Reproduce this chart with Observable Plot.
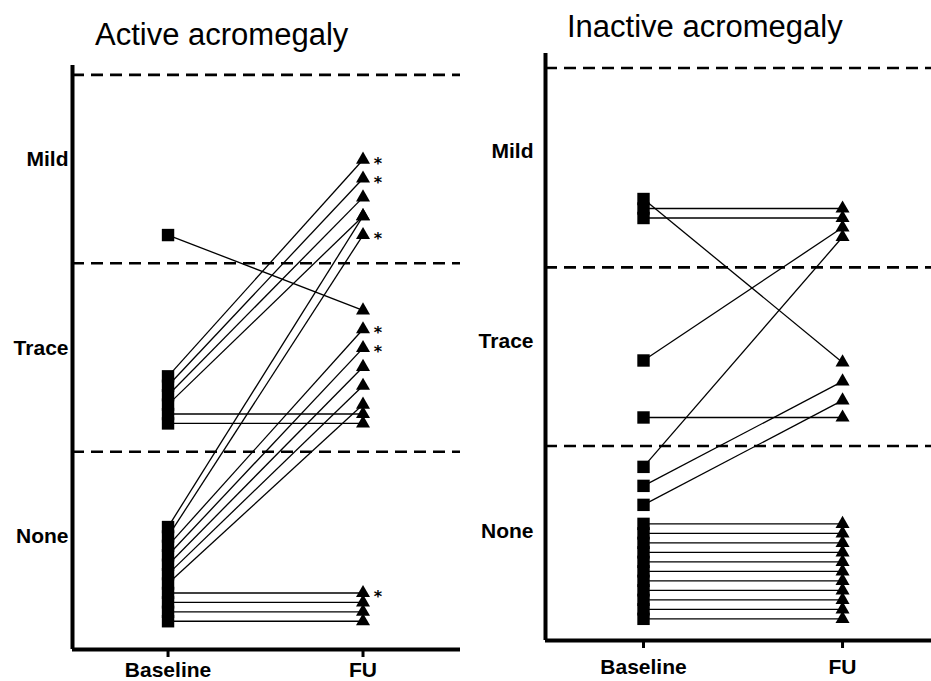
<!DOCTYPE html>
<html>
<head>
<meta charset="utf-8">
<script src="https://cdn.jsdelivr.net/npm/d3@7"></script>
<script src="https://cdn.jsdelivr.net/npm/@observablehq/plot@0.6"></script>
<style>
  body { margin: 0; background: #fff; }
  #wrap { position: relative; width: 931px; height: 681px; overflow: hidden; font-family: "Liberation Sans", Arial, sans-serif; }
  .panel { position: absolute; top: 0; }
  .title { position: absolute; font-size: 31px; line-height: 31px; white-space: nowrap; color: #000; }
</style>
</head>
<body>
<div id="wrap">
  <div class="panel" id="left"></div>
  <div class="panel" id="right" style="left:470px"></div>
  <div class="title" style="left:95px; top:19px">Active acromegaly</div>
  <div class="title" style="left:567px; top:11px">Inactive acromegaly</div>
</div>
<script>
// Category tick labels (y) and time points (x)
const categories = ["None", "Trace", "Mild"];      // at 0, 1, 2
const timepoints = ["Baseline", "FU"];             // at 0, 1

// Active acromegaly: paired scores (baseline -> follow-up)
const activeBaseline = [1.6, 0.85, 0.8, 0.75, 0.7, 0.65, 0.6, 0.05, 0, -0.05, -0.1, -0.15, -0.2, -0.25, -0.3, -0.35, -0.4, -0.45];
const activeFU       = [1.2, 2.0, 1.9, 1.8, 1.7, 0.65, 0.6, 1.7, 1.6, 1.1, 1.0, 0.9, 0.8, 0.7, -0.3, -0.35, -0.4, -0.45];
const activeStarred  = [2.0, 1.9, 1.6, 1.1, 1.0, -0.3];
const activeCutoffs  = [0.45, 1.45, 2.45];

// Inactive acromegaly
const inactiveBaseline = [1.75, 1.70, 1.65, 0.9, 0.6, 0.34, 0.24, 0.14, 0.04, -0.01, -0.06, -0.11, -0.16, -0.21, -0.26, -0.31, -0.36, -0.41, -0.46];
const inactiveFU       = [0.89, 1.70, 1.65, 1.6, 0.6, 1.55, 0.79, 0.69, 0.04, -0.01, -0.06, -0.11, -0.16, -0.21, -0.26, -0.31, -0.36, -0.41, -0.46];
const inactiveStarred  = [];
const inactiveCutoffs  = [0.45, 1.39, 2.44];

function panel({baseline, fu, starred, cutoffs, width, height, margins, xDomain, yDomain, labelPad, xLabelPad}) {
  const pairs = baseline.map((b, i) => ({b, f: fu[i]}));
  return Plot.plot({
    width, height,
    marginLeft: margins[0], marginRight: margins[1], marginTop: margins[2], marginBottom: margins[3],
    style: {fontFamily: "'Liberation Sans', Arial, sans-serif", color: "#000", background: "transparent", overflow: "visible"},
    x: {domain: xDomain},
    y: {domain: yDomain},
    marks: [
      Plot.ruleY(cutoffs, {stroke: "#000", strokeWidth: 2.6, strokeDasharray: "12,7"}),
      Plot.link(pairs, {x1: () => 0, y1: "b", x2: () => 1, y2: "f", stroke: "#000", strokeWidth: 1.3}),
      Plot.dot(baseline, {x: () => 0, y: d => d, symbol: "square", r: 7, fill: "#000", stroke: "none"}),
      Plot.dot(fu, {x: () => 1, y: d => d, symbol: "triangle", r: 5.2, fill: "#000", stroke: "none"}),
      Plot.text(starred, {x: () => 1, y: d => d, text: () => "*", dx: 15, dy: 4, fontSize: 16, fontWeight: "bold", fontFamily: "'DejaVu Sans', sans-serif", fill: "#000"}),
      Plot.ruleX([xDomain[0]], {stroke: "#000", strokeWidth: 4}),
      Plot.ruleY([yDomain[0]], {stroke: "#000", strokeWidth: 4}),
      Plot.axisY({ticks: [0, 1, 2], tickFormat: d => categories[d], tickSize: 0, tickPadding: labelPad, fontSize: 21, fontWeight: "bold", label: null}),
      Plot.axisX({ticks: [0, 1], tickFormat: d => timepoints[d], tickSize: 8, tickPadding: xLabelPad, strokeWidth: 3, fontSize: 21, fontWeight: "bold", label: null})
    ]
  });
}

document.getElementById("left").appendChild(panel({
  baseline: activeBaseline, fu: activeFU, starred: activeStarred, cutoffs: activeCutoffs,
  width: 470, height: 681, margins: [72, 10, 65, 32],
  xDomain: [-0.49, 1.5], yDomain: [-0.6, 2.5], labelPad: 4, xLabelPad: 5
}));

document.getElementById("right").appendChild(panel({
  baseline: inactiveBaseline, fu: inactiveFU, starred: inactiveStarred, cutoffs: inactiveCutoffs,
  width: 461, height: 681, margins: [75, 0, 53, 41],
  xDomain: [-0.4925, 1.447], yDomain: [-0.574, 2.516], labelPad: 12, xLabelPad: 11
}));
</script>
</body>
</html>
